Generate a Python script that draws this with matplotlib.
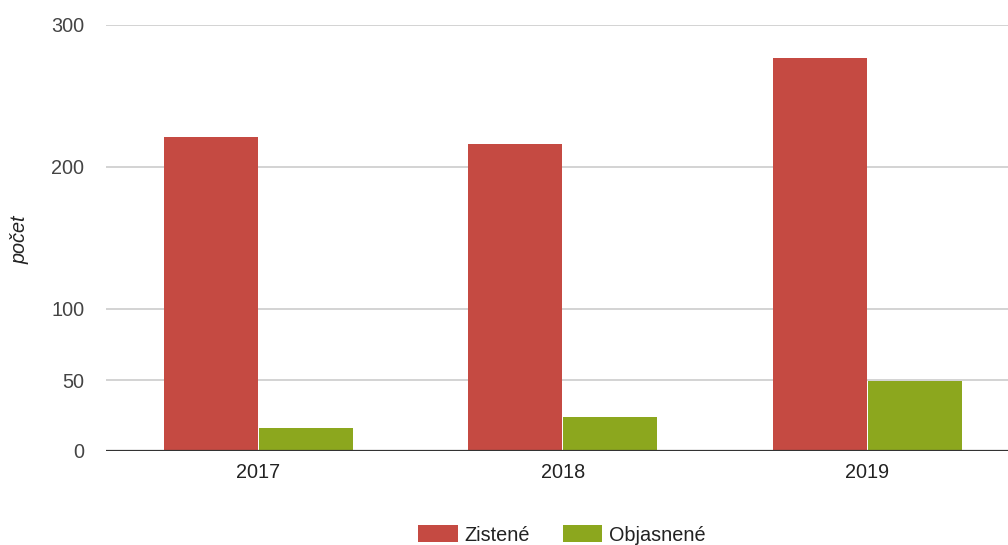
import matplotlib
matplotlib.use("Agg")
import matplotlib.pyplot as plt
import numpy as np
from matplotlib.patches import Patch

years = ["2017", "2018", "2019"]
zistene = [221, 216, 277]
objasnene = [16, 24, 49]
series_names = ["Zistené", "Objasnené"]
yticks = [0, 50, 100, 200, 300]

RED = "#C54A42"
GREEN = "#8CA71E"

plt.rcParams['font.family'] = ['Liberation Sans', 'DejaVu Sans']

W, H = 1008, 545
FS = 14.3
fig = plt.figure(figsize=(W/100, H/100), dpi=100)
left_px, right_px, top_px, bot_px = 106, 1008, 25, 451
ax = fig.add_axes([left_px/W, 1-bot_px/H, (right_px-left_px)/W, (bot_px-top_px)/H])

cat_w = 304.5
x = np.arange(len(years))
bw = 94/cat_w
gap = 1/cat_w
ax.bar(x - bw/2 - gap/2, zistene, width=bw, color=RED, zorder=3, linewidth=0)
ax.bar(x + bw/2 + gap/2, objasnene, width=bw, color=GREEN, zorder=3, linewidth=0)

ax.set_xlim(-0.5, -0.5 + (right_px-left_px)/cat_w)
ax.set_ylim(0, 300)
ax.set_yticks(yticks)
ax.set_yticklabels([str(t) for t in yticks])
ax.set_xticks(x)
ax.set_xticklabels(years)
for t in yticks:
    if t != 0:
        ax.axhline(t, color="#cccccc", linewidth=1.2, zorder=1)
ax.axhline(0, color="#333333", linewidth=1.6, zorder=4)

for s in ax.spines.values():
    s.set_visible(False)
ax.tick_params(axis='both', length=0, labelsize=FS, colors="#444444")
ax.tick_params(axis='y', pad=15.5)
ax.tick_params(axis='x', pad=9, labelcolor="#222222")

fig.text(20/W, 1-240/H, "počet", rotation=90, style='italic', fontsize=FS,
         color="#222222", ha='center', va='center')

handles = [Patch(facecolor=RED, edgecolor='none'), Patch(facecolor=GREEN, edgecolor='none')]
fig.legend(handles, series_names, loc='center', bbox_to_anchor=(562/W, 1-535/H),
           ncol=2, frameon=False, fontsize=FS, handlelength=2.0, handleheight=0.9,
           handletextpad=0.35, columnspacing=1.64, labelcolor="#222222")

fig.savefig("out.png", dpi=100)
